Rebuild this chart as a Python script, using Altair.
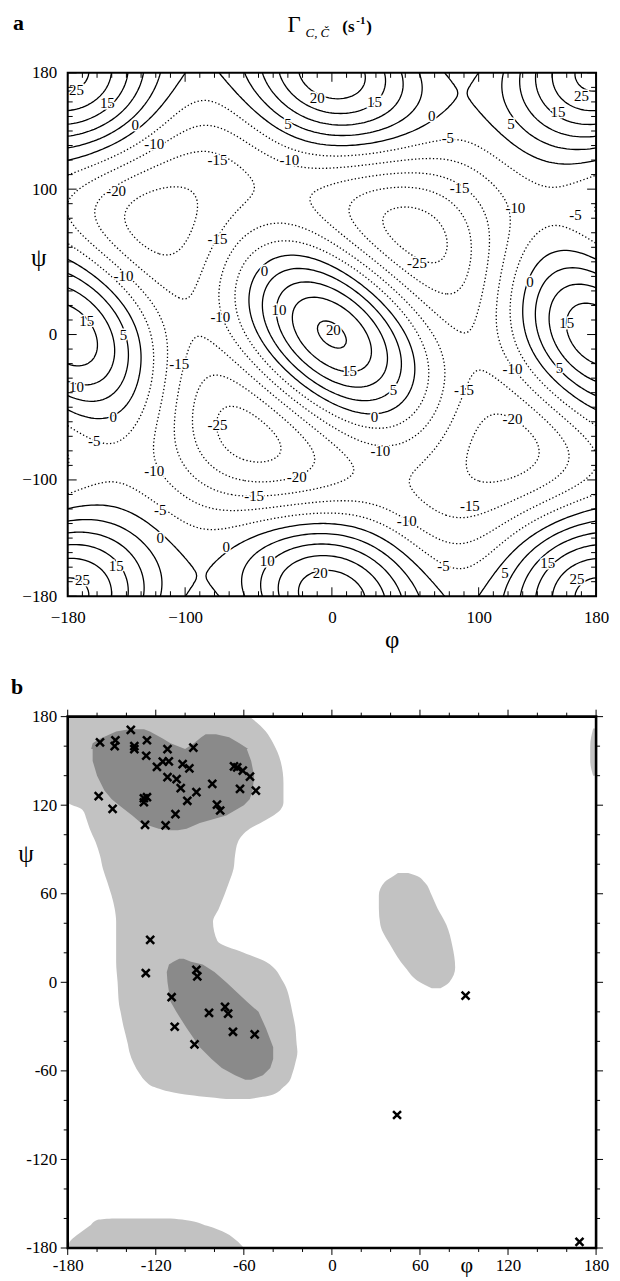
import numpy as np
import pandas as pd
import altair as alt
from collections import defaultdict

FONT = "Liberation Serif"

# ---------------- panel a : contour labels as printed (phi, psi, value) ----------------
LABEL_PHI = [-174, -153, -134, -121, -10, 29, 68, -30, 122, 154, 170, 79, -78, -29, 87, -147,
             -78, -142, -46, -36, 1, -167, -142, -76, -104, -174, 125, 166, 58, 135, 160, 123,
             155, 12, 42, 90, -149, -162, -78, -121, -24, -53, -117, -117, -72, -147, -170, -44,
             -8, 29, 123, 33, 94, 51, 76, 118, 147, 167]
LABEL_PSI = [168, 159, 144, 131, 163, 160, 150, 145, 145, 153, 164, 135, 120, 120, 101, 99,
             66, 40, 44, 17, 3, 9, 0, 12, -20, -36, 87, 82, 49, 36, 8, -24,
             -23, -25, -38, -38, -57, -73, -62, -94, -98, -111, -121, -140, -146, -159, -169, -156,
             -164, -57, -58, -80, -118, -128, -159, -164, -157, -168]
LABEL_VAL = [25, 15, 0, -10, 20, 15, 0, 5, 5, 15, 25, -5, -15, -10, -15, -20,
             -15, -10, 0, 10, 20, 15, 5, -10, -15, 10, -10, -5, -25, 0, 15, -10,
             5, 15, 5, -15, 0, -5, -25, -10, -20, -15, -5, 0, 0, 15, 25, 10,
             20, 0, -20, -10, -15, -10, -5, 5, 15, 25]

# further readings of the surface: maxima, minima, saddles
EXTRA_PHI = [0, 180, 180, 0, -120, 56, -40, -95]
EXTRA_PSI = [0, 180, 0, 180, 80, 67, 95, 10]
EXTRA_VAL = [22.5, 28, 17.5, 22.5, -22, -27.5, -17, -13]

# contour crossings read on the frame (phi = +-180 side, psi = +-180 side)
EDGE_PSI_AT_PHI180 = [0, 20, 35, 47, 57, 64, 78, 90, 100, 108, 120, 128, 137, 145, 153, 162, 172]
EDGE_VAL_AT_PHI180 = [17.5, 15, 10, 5, 0, -5, -10, -11, -10, -5, 0, 5, 10, 15, 20, 25, 27]
EDGE_PHI_AT_PSI180 = [0, 22, 40, 50, 61, 84, 92, 101, 120, 131, 143, 151, 166]
EDGE_VAL_AT_PSI180 = [22.5, 20, 15, 10, 5, 0, -2, 0, 5, 10, 15, 20, 25]

LEVELS = [-25, -20, -15, -10, -5, 0, 5, 10, 15, 20, 25]
AX_A_VALUES = [-180, -100, 0, 100, 180]

# ---------------- panel b : Ramachandran regions and residues ----------------
LIGHT_MAIN_PSI = [180, 170, 162, 150, 135, 122, 117, 110, 104, 95, 86, 77, 68, 50, 41, 28, 20, 14, 0,
                  -15, -20, -30, -42, -47, -55, -62, -67, -71, -76, -79]
LIGHT_MAIN_LO = [-180, -180, -180, -180, -180, -180, -170, -167, -165, -161, -158, -156, -153, -148, -147,
                 -147, -147, -147, -146, -145, -144, -142, -139, -138, -135, -131, -127, -121, -100, -72]
LIGHT_MAIN_HI = [-56, -45, -40, -35, -33, -33, -35, -45, -56, -64, -66, -67, -70, -77, -81,
                 -78, -60, -45, -33, -28, -27, -25, -24, -23.5, -25, -27, -29, -33, -40, -56]

LIGHT_L_PSI = [74, 72, 68, 59, 50, 39, 25, 10, 0, -4]
LIGHT_L_LO = [45, 42, 36, 32, 32, 33, 40, 50, 60, 68]
LIGHT_L_HI = [52, 58, 63, 68, 72, 78, 82, 84, 80, 74]

LIGHT_BOT_PSI = [-160, -161, -165, -170, -175, -180]
LIGHT_BOT_LO = [-150, -160, -165, -172, -178, -180]
LIGHT_BOT_HI = [-110, -100, -85, -72, -65, -60]

LIGHT_TR_PSI = [172, 160, 150, 140]
LIGHT_TR_LO = [178, 176, 176, 178]
LIGHT_TR_HI = [180, 180, 180, 180]

DARK_B_PSI = [158, 150, 140, 130, 124, 120, 113, 108, 104, 103]
DARK_B_LO = [-163, -163, -160, -155, -150, -145, -136, -130, -118, -110]
DARK_B_HI = [-58, -55, -53, -54, -56, -60, -72, -90, -99, -105]

DARK_BL_PSI = [171.5, 170, 165, 162, 158]
DARK_BL_LO = [-138, -147, -158, -163, -164]
DARK_BL_HI = [-128, -124, -115, -110, -100]

DARK_BR_PSI = [168, 166, 162, 158]
DARK_BR_LO = [-86, -89, -94, -100]
DARK_BR_HI = [-79, -70, -63, -57]

DARK_A_PSI = [16, 14, 12, 7, 0, -13, -20, -31, -44, -52, -58, -63, -66]
DARK_A_LO = [-104, -108, -111, -112.5, -112, -110, -106, -99, -90, -82, -75, -66, -59]
DARK_A_HI = [-101, -96, -88, -80, -72, -58, -50, -45, -40, -40, -42, -47, -55]

CROSS_PHI = [-137, -158, -147.5, -148, -134.6, -134.6, -126, -126.5, -112, -94.4, -119.2, -115.2,
             -111.1, -101.7, -97.1, -112, -105.8, -103, -92.3, -81.5, -98.5, -106.6, -128.1, -126,
             -128.1, -127.3, -113.3, -158.9, -149.4, -66.7, -64.5, -60.7, -55.8, -62.6, -51.8, -78.3,
             -76.1, -123.8, -126.8, -92.3, -91.7, -109.2, -107.1, -93.6, -83.7, -72.8, -70.7, -67.4,
             -52.6, 91.1, 44.4, 168.7]
CROSS_PSI = [171, 162.5, 164, 160, 160, 158, 164, 153.5, 158, 159, 146, 149.5,
             149.7, 147.8, 145, 139, 137.7, 131.5, 128.8, 134.4, 123, 114, 124.7, 125.4,
             122, 106.7, 106.3, 126.1, 117.5, 146.3, 145.6, 143.4, 139.3, 131, 129.9, 120.4,
             116.4, 28.8, 6.3, 8.5, 4, -10.1, -30.1, -42, -20.7, -16.7, -21.2, -33.5,
             -35.3, -9, -89.9, -175.8]

AX_B_VALUES = [-180, -120, -60, 0, 60, 120, 180]

# ---------------- surface fitted to the readings, then contoured ----------------
MODES = [(m, n) for m in range(3) for n in range(-2, 3) if (m > 0 or n >= 0)]


def basis(phi, psi):
    p = np.radians(phi)
    q = np.radians(psi)
    return np.stack([np.cos(m * p + n * q) for m, n in MODES], axis=-1)


fphi = np.array(LABEL_PHI + EXTRA_PHI + [180] * len(EDGE_PSI_AT_PHI180) + EDGE_PHI_AT_PSI180, float)
fpsi = np.array(LABEL_PSI + EXTRA_PSI + EDGE_PSI_AT_PHI180 + [180] * len(EDGE_PHI_AT_PSI180), float)
fval = np.array(LABEL_VAL + EXTRA_VAL + EDGE_VAL_AT_PHI180 + EDGE_VAL_AT_PSI180, float)
A = basis(fphi, fpsi)
coef = np.linalg.solve(A.T @ A + 0.5 * np.eye(A.shape[1]), A.T @ fval)

gx = np.linspace(-180, 180, 181)
gy = np.linspace(-180, 180, 181)
GX, GY = np.meshgrid(gx, gy)
Z = basis(GX, GY) @ coef


def trace(Z, xs, ys, level):
    ny, nx = Z.shape
    above = Z > level
    pts = {}

    def pt(key):
        if key in pts:
            return pts[key]
        kind, j, i = key
        if kind == 'h':
            v1, v2 = Z[j, i], Z[j, i + 1]
            t = (level - v1) / (v2 - v1)
            p = (xs[i] + t * (xs[i + 1] - xs[i]), ys[j])
        else:
            v1, v2 = Z[j, i], Z[j + 1, i]
            t = (level - v1) / (v2 - v1)
            p = (xs[i], ys[j] + t * (ys[j + 1] - ys[j]))
        pts[key] = p
        return p

    segs = []
    for j in range(ny - 1):
        for i in range(nx - 1):
            a, b, c, d = above[j, i], above[j, i + 1], above[j + 1, i + 1], above[j + 1, i]
            s = int(a) + 2 * int(b) + 4 * int(c) + 8 * int(d)
            if s == 0 or s == 15:
                continue
            e0 = ('h', j, i)
            e1 = ('v', j, i + 1)
            e2 = ('h', j + 1, i)
            e3 = ('v', j, i)
            cross = []
            if a != b:
                cross.append(e0)
            if b != c:
                cross.append(e1)
            if d != c:
                cross.append(e2)
            if a != d:
                cross.append(e3)
            if len(cross) == 2:
                pairs = [tuple(cross)]
            else:
                center = (Z[j, i] + Z[j, i + 1] + Z[j + 1, i + 1] + Z[j + 1, i]) / 4 > level
                if a:
                    pairs = [(e0, e1), (e2, e3)] if center else [(e0, e3), (e1, e2)]
                else:
                    pairs = [(e0, e3), (e1, e2)] if center else [(e0, e1), (e2, e3)]
            segs.extend(pairs)
    nbr = defaultdict(list)
    for k, (p, q) in enumerate(segs):
        nbr[p].append(k)
        nbr[q].append(k)
    used = [False] * len(segs)

    def follow(k, key):
        path = [key]
        while True:
            used[k] = True
            p, q = segs[k]
            nxt = q if p == key else p
            path.append(nxt)
            cand = [s2 for s2 in nbr[nxt] if not used[s2]]
            if not cand:
                break
            k = cand[0]
            key = nxt
        return path

    lines = []
    for key, lst in list(nbr.items()):
        if len(lst) == 1 and not used[lst[0]]:
            lines.append(follow(lst[0], key))
    for k in range(len(segs)):
        if not used[k]:
            lines.append(follow(k, segs[k][0]))
    return [[pt(key) for key in line] for line in lines]


rows = []
lid = 0
for lev in LEVELS:
    for line in trace(Z, gx, gy, lev):
        for o, (px, py) in enumerate(line):
            rows.append({"phi": px, "psi": py, "line": lid, "ord": o, "level": lev})
        lid += 1
cont = pd.DataFrame(rows)

# ---------------- chart ----------------
W = 531
HA = 526
HB = 534

sx = alt.Scale(domain=[-180, 180], nice=False, zero=False)
sy = alt.Scale(domain=[-180, 180], nice=False, zero=False)

AXA_X = alt.Axis(values=AX_A_VALUES, title=None, ticks=False, domain=False, grid=False,
                 labelPadding=13, labelFontSize=17, labelFont=FONT, labelColor="black",
                 labelFlush=False)
AXA_Y = alt.Axis(values=AX_A_VALUES, title=None, ticks=False, domain=False, grid=False,
                 labelPadding=11, labelFontSize=17, labelFont=FONT, labelColor="black",
                 labelFlush=False)
AXB_X = alt.Axis(values=AX_B_VALUES, title=None, ticks=False, domain=False, grid=False,
                 labelPadding=10, labelFontSize=17, labelFont=FONT, labelColor="black",
                 labelFlush=False, labelExpr="datum.value + ''")
AXB_Y = alt.Axis(values=AX_B_VALUES, title=None, ticks=False, domain=False, grid=False,
                 labelPadding=11, labelFontSize=17, labelFont=FONT, labelColor="black",
                 labelFlush=False, labelExpr="datum.value + ''")


def tick_layers(vals, W, H, length, inward, axx, axy):
    df = pd.DataFrame({"v": vals})
    base = alt.Chart(df).mark_rule(color="black", strokeWidth=1)
    X = alt.X("v:Q", scale=sx, axis=axx)
    Y = alt.Y("v:Q", scale=sy, axis=axy)
    s = 1 if inward else -1
    return [
        base.encode(x=X, y=alt.value(H), y2=alt.value(H - s * length)),
        base.encode(x=X, y=alt.value(0), y2=alt.value(s * length)),
        base.encode(y=Y, x=alt.value(0), x2=alt.value(s * length)),
        base.encode(y=Y, x=alt.value(W), x2=alt.value(W - s * length)),
    ]


def text_at(txt, x, y, size, weight="normal", style="normal", align="center", baseline="middle"):
    return alt.Chart(pd.DataFrame({"t": [txt]})).mark_text(
        font=FONT, fontSize=size, fontWeight=weight, fontStyle=style, align=align,
        baseline=baseline, color="black"
    ).encode(x=alt.value(x), y=alt.value(y), text="t:N")


XA = alt.X("phi:Q", scale=sx, axis=AXA_X)
YA = alt.Y("psi:Q", scale=sy, axis=AXA_Y)

solid = alt.Chart(cont[cont.level >= 0]).mark_line(
    color="black", strokeWidth=1.3, clip=True
).encode(x=XA, y=YA, detail="line:N", order="ord:Q")
dotted = alt.Chart(cont[cont.level < 0]).mark_line(
    color="black", strokeWidth=1.3, strokeDash=[1.3, 2.3], clip=True
).encode(x=XA, y=YA, detail="line:N", order="ord:Q")

lab_df = pd.DataFrame({"phi": LABEL_PHI, "psi": LABEL_PSI, "txt": [str(v) for v in LABEL_VAL]})
lab_halo = alt.Chart(lab_df).mark_text(
    font=FONT, fontSize=15, color="white", stroke="white", strokeWidth=3
).encode(x=XA, y=YA, text="txt:N")
lab = alt.Chart(lab_df).mark_text(font=FONT, fontSize=15, color="black").encode(
    x=XA, y=YA, text="txt:N")

frame_a = alt.Chart(pd.DataFrame({"k": [0]})).mark_rect(
    filled=False, color="black", strokeWidth=2
).encode(x=alt.value(0), x2=alt.value(W), y=alt.value(0), y2=alt.value(HA))

ticks_a = (tick_layers([v for v in range(-180, 181, 10) if v not in AX_A_VALUES], W, HA, 5, True, AXA_X, AXA_Y)
           + tick_layers(AX_A_VALUES, W, HA, 9, True, AXA_X, AXA_Y))

panel_a = alt.layer(
    solid, dotted, lab_halo, lab, *ticks_a, frame_a,
    text_at("a", -55, -43, 22, weight="bold", align="left", baseline="alphabetic"),
    text_at("\u0393", 221, -41, 23, align="left", baseline="alphabetic"),
    text_at("C, \u010c", 239, -36, 13, style="italic", align="left", baseline="alphabetic"),
    text_at("(s", 276, -41, 17, weight="bold", align="left", baseline="alphabetic"),
    text_at("-1", 290, -49, 11, weight="bold", align="left", baseline="alphabetic"),
    text_at(")", 300, -41, 17, weight="bold", align="left", baseline="alphabetic"),
    text_at("\u03c8", -29, 186, 25),
    text_at("\u03c6", 326, HA + 44, 25),
).properties(width=W, height=HA)

# ---------- panel b ----------
XB = alt.X("lo:Q", scale=sx, axis=AXB_X)
X2B = alt.X2("hi")
YB = alt.Y("psi:Q", scale=sy, axis=AXB_Y)


def region_df(name, psi, lo, hi):
    return pd.DataFrame({"region": [name] * len(psi), "psi": psi, "lo": lo, "hi": hi})


light = pd.concat([
    region_df("main", LIGHT_MAIN_PSI, LIGHT_MAIN_LO, LIGHT_MAIN_HI),
    region_df("left", LIGHT_L_PSI, LIGHT_L_LO, LIGHT_L_HI),
    region_df("bottom", LIGHT_BOT_PSI, LIGHT_BOT_LO, LIGHT_BOT_HI),
    region_df("corner", LIGHT_TR_PSI, LIGHT_TR_LO, LIGHT_TR_HI),
], ignore_index=True)
dark = pd.concat([
    region_df("beta", DARK_B_PSI, DARK_B_LO, DARK_B_HI),
    region_df("beta_l", DARK_BL_PSI, DARK_BL_LO, DARK_BL_HI),
    region_df("beta_r", DARK_BR_PSI, DARK_BR_LO, DARK_BR_HI),
    region_df("alpha", DARK_A_PSI, DARK_A_LO, DARK_A_HI),
], ignore_index=True)

light_l = alt.Chart(light).mark_area(orient="horizontal", color="#c2c2c2", interpolate="monotone").encode(
    y=YB, x=XB, x2=X2B, detail="region:N")
dark_l = alt.Chart(dark).mark_area(orient="horizontal", color="#8a8a8a").encode(
    y=YB, x=XB, x2=X2B, detail="region:N")

cross_df = pd.DataFrame({"lo": CROSS_PHI, "psi": CROSS_PSI})
crosses = alt.Chart(cross_df).mark_point(
    shape="M -1 -1 L 1 1 M -1 1 L 1 -1", size=64, strokeWidth=2.5, color="black", filled=False, opacity=1
).encode(x=XB, y=YB)

frame_b = alt.Chart(pd.DataFrame({"k": [0]})).mark_rect(
    filled=False, color="black", strokeWidth=2.6
).encode(x=alt.value(0), x2=alt.value(W), y=alt.value(0), y2=alt.value(HB))

ticks_b = (tick_layers([v for v in range(-180, 181, 20) if v not in AX_B_VALUES], W, HB, 4, False, AXB_X, AXB_Y)
           + tick_layers(AX_B_VALUES, W, HB, 7, False, AXB_X, AXB_Y))

panel_b = alt.layer(
    light_l, dark_l, crosses, *ticks_b, frame_b,
    text_at("b", -57, -23, 22, weight="bold", align="left", baseline="alphabetic"),
    text_at("\u03c8", -42, 138, 25),
    text_at("\u03c6", 401, HB + 17, 22),
).properties(width=W, height=HB)

chart = alt.vconcat(panel_a, panel_b, spacing=121, bounds="flush").properties(
    padding={"left": 2, "top": 0, "right": 2, "bottom": 0}
).configure_view(stroke="transparent")

chart.save("out.html", embed_options={"renderer": "svg", "actions": False})
